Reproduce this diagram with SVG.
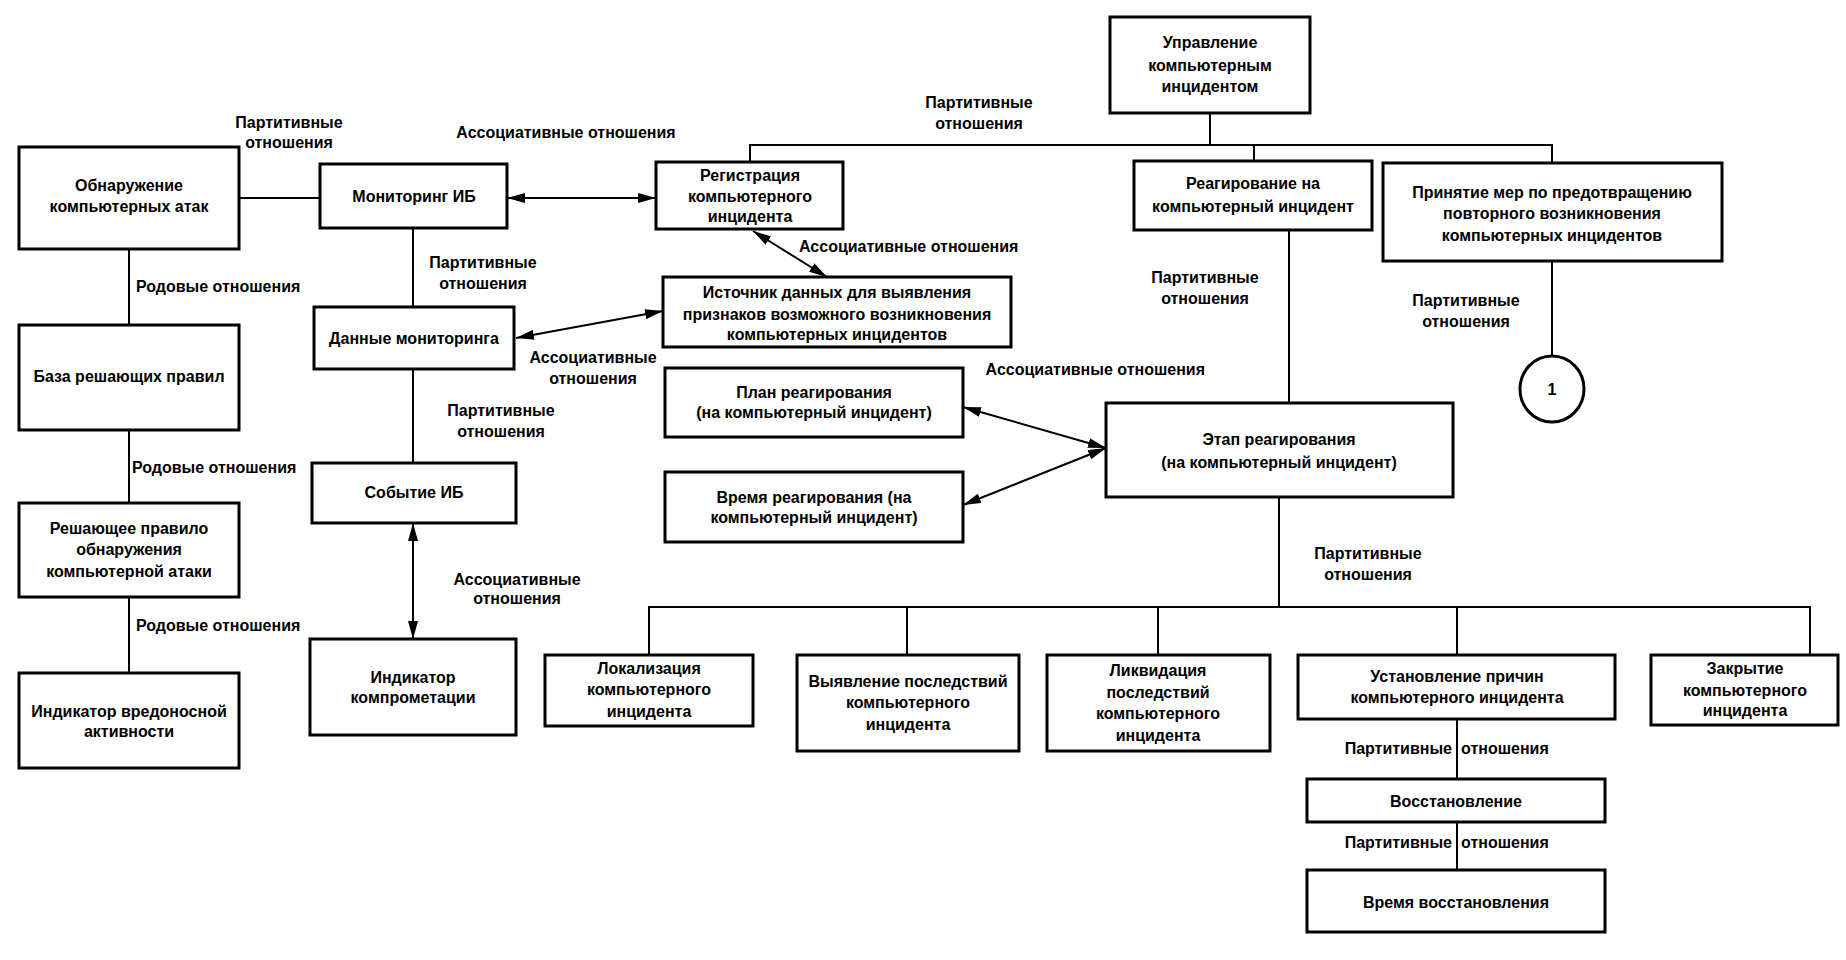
<svg xmlns="http://www.w3.org/2000/svg" width="1846" height="960" viewBox="0 0 1846 960">
<defs>
<style>
.box{fill:#fff;stroke:#000;stroke-width:3}
.ln{fill:none;stroke:#000;stroke-width:2}
.ar{fill:none;stroke:#000;stroke-width:2;marker-start:url(#ah);marker-end:url(#ah)}
text{font-family:"Liberation Sans",Arial,sans-serif;font-weight:bold;font-size:16px;fill:#000}
.c{text-anchor:middle}
.s{text-anchor:start}
.e{text-anchor:end}
</style>
<marker id="ah" viewBox="0 0 18 10" refX="18" refY="5" markerWidth="18" markerHeight="10" markerUnits="userSpaceOnUse" orient="auto-start-reverse"><path d="M0,0 L18,5 L0,10 z" fill="#000"/></marker>
</defs>
<rect width="1846" height="960" fill="#fff"/>
<g id="connectors">
<path class="ln" d="M239,198 H320"/>
<path class="ln" d="M129,249 V325"/>
<path class="ln" d="M129,430 V503"/>
<path class="ln" d="M129,597 V673"/>
<path class="ln" d="M413,228 V307"/>
<path class="ln" d="M413,369 V463"/>
<path class="ar" d="M413,523 L413,639"/>
<path class="ar" d="M507,198 L656,198"/>
<path class="ar" d="M753,231 L827,277"/>
<path class="ar" d="M516,338 L663,311"/>
<path class="ar" d="M963,407 L1106,448"/>
<path class="ar" d="M963,505 L1106,448"/>
<path class="ln" d="M750,162 V145 H1552 V163"/>
<path class="ln" d="M1210,113 V145"/>
<path class="ln" d="M1254,145 V161"/>
<path class="ln" d="M1289,230 V403"/>
<path class="ln" d="M1552,261 V356"/>
<path class="ln" d="M1279,497 V607"/>
<path class="ln" d="M649,655 V607 H1810 V655"/>
<path class="ln" d="M907,607 V655"/>
<path class="ln" d="M1158,607 V655"/>
<path class="ln" d="M1457,607 V655"/>
<path class="ln" d="M1457,719 V779"/>
<path class="ln" d="M1457,822 V870"/>
</g>
<g id="labels">
<text class="c" x="289" y="128">Партитивные</text>
<text class="c" x="289" y="148">отношения</text>
<text class="c" x="566" y="138">Ассоциативные отношения</text>
<text class="c" x="979" y="108">Партитивные</text>
<text class="c" x="979" y="129">отношения</text>
<text class="s" x="799" y="252">Ассоциативные отношения</text>
<text class="c" x="483" y="268">Партитивные</text>
<text class="c" x="483" y="289">отношения</text>
<text class="c" x="593" y="363">Ассоциативные</text>
<text class="c" x="593" y="384">отношения</text>
<text class="s" x="136" y="292">Родовые отношения</text>
<text class="s" x="132" y="473">Родовые отношения</text>
<text class="s" x="136" y="631">Родовые отношения</text>
<text class="c" x="501" y="416">Партитивные</text>
<text class="c" x="501" y="437">отношения</text>
<text class="c" x="517" y="585">Ассоциативные</text>
<text class="c" x="517" y="604">отношения</text>
<text class="e" x="1205" y="375">Ассоциативные отношения</text>
<text class="c" x="1205" y="283">Партитивные</text>
<text class="c" x="1205" y="304">отношения</text>
<text class="c" x="1466" y="306">Партитивные</text>
<text class="c" x="1466" y="327">отношения</text>
<text class="c" x="1368" y="559">Партитивные</text>
<text class="c" x="1368" y="580">отношения</text>
<text class="e" x="1452" y="754">Партитивные</text>
<text class="s" x="1461" y="754">отношения</text>
<text class="e" x="1452" y="848">Партитивные</text>
<text class="s" x="1461" y="848">отношения</text>
</g>
<g id="n-obn"><rect class="box" x="19" y="147" width="220" height="102"/><text class="c" x="129" y="191">Обнаружение</text><text class="c" x="129" y="212">компьютерных атак</text></g>
<g id="n-baza"><rect class="box" x="19" y="325" width="220" height="105"/><text class="c" x="129" y="382">База решающих правил</text></g>
<g id="n-resh"><rect class="box" x="19" y="503" width="220" height="94"/><text class="c" x="129" y="534">Решающее правило</text><text class="c" x="129" y="555">обнаружения</text><text class="c" x="129" y="577">компьютерной атаки</text></g>
<g id="n-indvred"><rect class="box" x="19" y="673" width="220" height="95"/><text class="c" x="129" y="717">Индикатор вредоносной</text><text class="c" x="129" y="737">активности</text></g>
<g id="n-mon"><rect class="box" x="320" y="164" width="187" height="64"/><text class="c" x="414" y="202">Мониторинг ИБ</text></g>
<g id="n-dan"><rect class="box" x="314" y="307" width="200" height="62"/><text class="c" x="414" y="344">Данные мониторинга</text></g>
<g id="n-sob"><rect class="box" x="312" y="463" width="204" height="60"/><text class="c" x="414" y="498">Событие ИБ</text></g>
<g id="n-indkomp"><rect class="box" x="310" y="639" width="206" height="96"/><text class="c" x="413" y="683">Индикатор</text><text class="c" x="413" y="703">компрометации</text></g>
<g id="n-reg"><rect class="box" x="656" y="162" width="187" height="67"/><text class="c" x="750" y="181">Регистрация</text><text class="c" x="750" y="202">компьютерного</text><text class="c" x="750" y="222">инцидента</text></g>
<g id="n-ist"><rect class="box" x="663" y="277" width="348" height="70"/><text class="c" x="837" y="298">Источник данных для выявления</text><text class="c" x="837" y="320">признаков возможного возникновения</text><text class="c" x="837" y="340">компьютерных инцидентов</text></g>
<g id="n-plan"><rect class="box" x="665" y="368" width="298" height="69"/><text class="c" x="814" y="398">План реагирования</text><text class="c" x="814" y="418">(на компьютерный инцидент)</text></g>
<g id="n-vrreag"><rect class="box" x="665" y="472" width="298" height="70"/><text class="c" x="814" y="503">Время реагирования (на</text><text class="c" x="814" y="523">компьютерный инцидент)</text></g>
<g id="n-upr"><rect class="box" x="1110" y="17" width="200" height="96"/><text class="c" x="1210" y="48">Управление</text><text class="c" x="1210" y="71">компьютерным</text><text class="c" x="1210" y="92">инцидентом</text></g>
<g id="n-reag"><rect class="box" x="1134" y="161" width="238" height="69"/><text class="c" x="1253" y="189">Реагирование на</text><text class="c" x="1253" y="212">компьютерный инцидент</text></g>
<g id="n-prin"><rect class="box" x="1383" y="163" width="339" height="98"/><text class="c" x="1552" y="198">Принятие мер по предотвращению</text><text class="c" x="1552" y="219">повторного возникновения</text><text class="c" x="1552" y="241">компьютерных инцидентов</text></g>
<g id="n-one"><ellipse cx="1552" cy="389" rx="32" ry="33" fill="#fff" stroke="#000" stroke-width="3"/><text class="c" x="1552" y="395">1</text></g>
<g id="n-etap"><rect class="box" x="1106" y="403" width="347" height="94"/><text class="c" x="1279" y="445">Этап реагирования</text><text class="c" x="1279" y="468">(на компьютерный инцидент)</text></g>
<g id="n-lok"><rect class="box" x="545" y="655" width="208" height="71"/><text class="c" x="649" y="674">Локализация</text><text class="c" x="649" y="695">компьютерного</text><text class="c" x="649" y="717">инцидента</text></g>
<g id="n-vyy"><rect class="box" x="797" y="655" width="222" height="96"/><text class="c" x="908" y="687">Выявление последствий</text><text class="c" x="908" y="708">компьютерного</text><text class="c" x="908" y="730">инцидента</text></g>
<g id="n-likv"><rect class="box" x="1047" y="655" width="223" height="96"/><text class="c" x="1158" y="676">Ликвидация</text><text class="c" x="1158" y="698">последствий</text><text class="c" x="1158" y="719">компьютерного</text><text class="c" x="1158" y="741">инцидента</text></g>
<g id="n-ust"><rect class="box" x="1298" y="655" width="317" height="64"/><text class="c" x="1457" y="682">Установление причин</text><text class="c" x="1457" y="703">компьютерного инцидента</text></g>
<g id="n-zakr"><rect class="box" x="1651" y="655" width="187" height="70"/><text class="c" x="1745" y="674">Закрытие</text><text class="c" x="1745" y="696">компьютерного</text><text class="c" x="1745" y="716">инцидента</text></g>
<g id="n-vosst"><rect class="box" x="1307" y="779" width="298" height="43"/><text class="c" x="1456" y="807">Восстановление</text></g>
<g id="n-vrvosst"><rect class="box" x="1307" y="870" width="298" height="62"/><text class="c" x="1456" y="908">Время восстановления</text></g>
</svg>
